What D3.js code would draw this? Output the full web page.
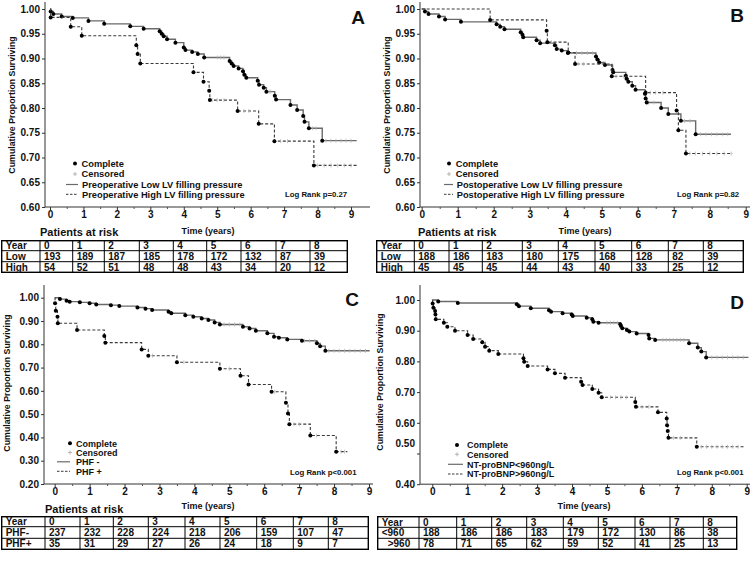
<!DOCTYPE html>
<html><head><meta charset="utf-8">
<script src="https://cdn.jsdelivr.net/npm/d3@7"></script>
<style>
body{margin:0;background:#fff}
svg{display:block}
text{font-family:"Liberation Sans",Arial,sans-serif;font-weight:bold;fill:#111}
</style>
</head><body>
<svg id="chart" width="750" height="561"></svg>
<script>
// ---------------- DATA ----------------
const years = [0,1,2,3,4,5,6,7,8,9];
const tableYears = ["0","1","2","3","4","5","6","7","8"];

// Panel A – preoperative LV filling pressure
const aLowT = [0.02,0.10,0.35,0.68,1.15,1.62,2.40,2.80,3.28,3.34,3.40,3.50,3.75,4.00,4.05,4.25,4.42,4.61,5.37,5.43,5.49,5.64,5.77,5.81,5.87,6.21,6.25,6.39,6.47,6.72,6.76,7.19,7.39,7.57,7.61,7.74,8.14];
const aLowS = [0.995,0.990,0.985,0.982,0.976,0.970,0.965,0.960,0.955,0.950,0.945,0.939,0.932,0.922,0.917,0.913,0.909,0.902,0.895,0.890,0.885,0.880,0.874,0.867,0.861,0.855,0.847,0.841,0.833,0.825,0.817,0.806,0.796,0.784,0.772,0.759,0.734];
const aLowEnd = 9.17;
const aLowCens = [5.0,5.1,5.2,6.55,6.6,7.85,7.95,8.25,8.4,8.55,8.7,8.85,9.0];
const aHighT = [0.02,0.62,0.95,2.58,2.62,2.70,4.29,4.59,4.76,4.78,5.61,6.24,6.71,7.89];
const aHighS = [0.983,0.964,0.946,0.927,0.909,0.890,0.872,0.853,0.835,0.816,0.794,0.768,0.733,0.684];
const aHighEnd = 9.18;
const aHighCens = [4.85,5.0,5.2,5.8,5.95,6.9,7.1,8.0,8.2,8.4,8.6,8.8,9.0];
const aRiskLow = [193,189,187,185,178,172,132,87,39];
const aRiskHigh = [54,52,51,48,48,43,34,20,12];

// Panel B – postoperative LV filling pressure
const bLowT = [0.09,0.19,0.48,0.65,1.09,2.08,2.18,2.30,2.75,2.80,2.82,3.19,3.29,3.70,3.75,3.89,4.06,4.84,4.88,4.93,5.09,5.30,5.32,5.67,5.69,5.74,5.85,5.94,6.20,6.22,6.25,6.65,6.85,7.20,7.61];
const bLowS = [0.995,0.990,0.985,0.979,0.974,0.969,0.964,0.959,0.953,0.948,0.943,0.937,0.931,0.927,0.919,0.916,0.911,0.904,0.898,0.892,0.887,0.877,0.872,0.865,0.859,0.853,0.845,0.837,0.829,0.819,0.811,0.800,0.788,0.774,0.747];
const bLowEnd = 8.59;
const bLowCens = [4.3,4.45,4.6,4.75,6.3,6.45,7.3,7.45,7.75,7.9,8.05,8.2,8.35,8.5];
const bHighT = [1.90,3.47,3.49,4.07,4.26,5.28,6.22,7.08,7.13,7.34];
const bHighS = [0.978,0.956,0.933,0.912,0.889,0.864,0.831,0.795,0.755,0.708];
const bHighEnd = 8.63;
const bHighCens = [3.6,4.35,4.5,5.4,5.6,6.35,6.5,6.7,7.45,7.6,7.8,8.0,8.2,8.4,8.6];
const bRiskLow = [188,186,183,180,175,168,128,82,39];
const bRiskHigh = [45,45,45,44,43,40,33,25,12];

// Panel C – PHF
const cLowT = [0.15,0.34,0.43,0.72,1.00,1.19,1.61,1.85,2.37,2.60,2.79,3.26,3.34,3.74,3.97,4.21,4.40,4.58,4.73,5.39,5.58,5.76,6.09,6.28,6.42,6.66,7.08,7.51,7.60,7.75];
const cLowS = [0.994,0.987,0.983,0.980,0.976,0.971,0.968,0.964,0.958,0.953,0.947,0.940,0.933,0.925,0.918,0.911,0.904,0.894,0.885,0.875,0.868,0.858,0.847,0.832,0.828,0.821,0.815,0.804,0.792,0.772];
const cLowEnd = 9.02;
const cLowCens = [4.85,5.0,5.15,5.3,7.15,7.3,7.45,7.85,8.0,8.15,8.3,8.45,8.6,8.75,8.9];
const cHighT = [0.01,0.03,0.08,0.09,0.64,1.42,1.45,2.49,2.68,3.50,4.73,5.32,5.55,6.21,6.62,6.68,6.72,7.32,8.06];
const cHighS = [0.976,0.944,0.918,0.890,0.861,0.835,0.807,0.778,0.751,0.723,0.695,0.665,0.627,0.596,0.549,0.503,0.457,0.408,0.339];
const cHighEnd = 8.38;
const cHighCens = [2.8,3.7,5.0,6.3,6.85,7.0,7.5,8.2,8.3];
const cRiskNeg = [237,232,228,224,218,206,159,107,47];
const cRiskPos = [35,31,29,27,26,24,18,9,7];

// Panel D – NT-proBNP
const dLowT = [0.17,0.73,2.42,2.48,2.82,3.34,3.40,3.73,3.99,4.02,4.42,4.58,4.61,4.76,5.38,5.40,5.44,5.57,5.64,5.85,6.19,6.21,6.38,7.35,7.60,7.70,7.84];
const dLowS = [0.995,0.990,0.986,0.980,0.973,0.967,0.962,0.957,0.953,0.948,0.942,0.937,0.929,0.926,0.921,0.915,0.908,0.902,0.897,0.891,0.886,0.875,0.870,0.859,0.845,0.832,0.813];
const dLowEnd = 9.05;
const dLowCens = [5.0,5.1,5.2,5.3,6.6,6.7,6.8,6.9,7.0,7.1,7.2,8.0,8.15,8.3,8.45,8.6,8.75,8.9];
const dHighT = [0.01,0.03,0.08,0.09,0.10,0.33,0.43,0.65,1.01,1.17,1.43,1.51,1.63,1.89,2.61,2.63,2.73,3.30,3.51,3.80,4.26,4.30,4.58,4.76,4.85,5.81,5.83,6.46,6.71,6.72,6.74,6.76,7.57];
const dHighS = [0.989,0.975,0.964,0.953,0.937,0.926,0.913,0.900,0.886,0.873,0.862,0.848,0.835,0.824,0.810,0.799,0.785,0.774,0.761,0.747,0.734,0.723,0.710,0.698,0.683,0.668,0.652,0.634,0.614,0.592,0.573,0.551,0.522];
const dHighEnd = 8.96;
const dHighCens = [5.1,5.25,5.4,5.55,6.0,6.2,6.9,7.1,7.7,7.85,8.0,8.15,8.3,8.45,8.6,8.75];
const dRiskLow = [188,186,186,183,179,172,130,86,38];
const dRiskHigh = [78,71,65,62,59,52,41,25,13];

// ---------------- DRAWING ----------------
const svg = d3.select("#chart");
const SOLID = "#6a6a6a", DASHED = "#3a3a3a", CENS = "#b5b5b5";

function stepValue(T, S, t){
  let v = 1;
  for (let i=0;i<T.length;i++){ if (T[i] <= t) v = S[i]; }
  return v;
}

function drawPanel(cfg){
  const g = svg.append("g");
  const x = d3.scaleLinear().domain([0,9]).range([cfg.x0, cfg.x9]);
  const y = d3.scaleLinear().domain([cfg.yMin,1]).range([cfg.yBottom, cfg.yTop]);

  // axis lines
  g.append("line").attr("x1",cfg.axX).attr("x2",cfg.axX).attr("y1",cfg.axTop).attr("y2",cfg.yBottom)
    .attr("stroke","#333").attr("stroke-width",1);
  g.append("line").attr("x1",cfg.axX).attr("x2",cfg.axRight).attr("y1",cfg.yBottom).attr("y2",cfg.yBottom)
    .attr("stroke","#333").attr("stroke-width",1);

  // x axis
  const xa = g.append("g").attr("transform",`translate(0,${cfg.yBottom})`)
    .call(d3.axisBottom(x).tickValues(years).tickFormat(d3.format("d")).tickSize(3).tickPadding(1));
  xa.select(".domain").remove();
  xa.selectAll("line").attr("stroke","#333");
  xa.selectAll("text").style("font-size","10px").attr("fill","#111");
  const halves = d3.range(0.5,9,1);
  const xm = g.append("g").attr("transform",`translate(0,${cfg.yBottom})`)
    .call(d3.axisBottom(x).tickValues(halves).tickFormat("").tickSize(2));
  xm.select(".domain").remove();
  xm.selectAll("line").attr("stroke","#555");

  // y axis
  const yt = d3.range(cfg.yMin, 1.0001, cfg.yStep);
  const ya = g.append("g").attr("transform",`translate(${cfg.axX},0)`)
    .call(d3.axisLeft(y).tickValues(yt).tickFormat(d3.format(".2f")).tickSize(3).tickPadding(2));
  ya.select(".domain").remove();
  ya.selectAll("line").attr("stroke","#333");
  ya.selectAll("text").style("font-size","10px").attr("fill","#111");
  if (cfg.nudge){
    ya.selectAll(".tick").filter(d => Math.abs(d - cfg.nudge.v) < 1e-6)
      .select("text").attr("transform",`translate(0,${cfg.nudge.dy})`);
  }

  // y title
  g.append("text").attr("transform",`translate(${cfg.yTitleX},${cfg.yTitleY}) rotate(-90)`)
    .attr("text-anchor","middle").style("font-size","8.8px").attr("fill","#222")
    .text("Cumulative Proportion Surviving");

  // curves
  const line = d3.line().x(d=>x(d[0])).y(d=>y(d[1])).curve(d3.curveStepAfter);
  cfg.curves.forEach(c => {
    const pts = [[0,1]].concat(c.T.map((t,i)=>[t,c.S[i]])).concat([[c.end, c.S[c.S.length-1]]]);
    g.append("path").attr("d", line(pts)).attr("fill","none")
      .attr("stroke", c.dashed ? DASHED : SOLID).attr("stroke-width", c.dashed ? 1.1 : 1.4)
      .attr("stroke-dasharray", c.dashed ? "3,2" : null);
    c.cens.forEach(t => {
      const v = stepValue(c.T, c.S, t);
      g.append("line").attr("x1",x(t)).attr("x2",x(t)).attr("y1",y(v)-2).attr("y2",y(v)+2)
        .attr("stroke",CENS).attr("stroke-width",0.8);
    });
    g.selectAll(null).data(c.T.map((t,i)=>[t,c.S[i]])).enter().append("circle")
      .attr("cx",d=>x(d[0])).attr("cy",d=>y(d[1])).attr("r",2).attr("fill","#000");
  });

  // panel letter
  g.append("text").attr("x",cfg.letterX).attr("y",cfg.letterY).attr("text-anchor","middle")
    .style("font-size","19px").attr("fill","#000").text(cfg.letter);

  // legend
  const L = cfg.legend, fs = L.fs + "px", off = L.fs * 0.36;
  g.append("circle").attr("cx",L.dotX).attr("cy",L.rows[0]).attr("r",2).attr("fill","#000");
  g.append("text").attr("x",L.textX).attr("y",L.rows[0]+off).style("font-size",fs).text("Complete");
  g.append("line").attr("x1",L.dotX).attr("x2",L.dotX).attr("y1",L.rows[1]-2).attr("y2",L.rows[1]+2).attr("stroke",CENS);
  g.append("line").attr("x1",L.dotX-2).attr("x2",L.dotX+2).attr("y1",L.rows[1]).attr("y2",L.rows[1]).attr("stroke",CENS);
  g.append("text").attr("x",L.textX).attr("y",L.rows[1]+off).style("font-size",fs).text("Censored");
  g.append("line").attr("x1",L.lineX1).attr("x2",L.lineX2).attr("y1",L.rows[2]).attr("y2",L.rows[2])
    .attr("stroke",SOLID).attr("stroke-width",1.2);
  g.append("text").attr("x",L.lineTextX).attr("y",L.rows[2]+off).style("font-size",fs).text(cfg.names[0]);
  g.append("line").attr("x1",L.lineX1).attr("x2",L.lineX2).attr("y1",L.rows[3]).attr("y2",L.rows[3])
    .attr("stroke",DASHED).attr("stroke-width",1).attr("stroke-dasharray","2.5,1.5");
  g.append("text").attr("x",L.lineTextX).attr("y",L.rows[3]+off).style("font-size",fs).text(cfg.names[1]);

  g.append("text").attr("x",cfg.logRank.x).attr("y",cfg.logRank.y+2.8).style("font-size","7.8px").text(cfg.logRank.text);

  // x title and risk heading
  g.append("text").attr("x",cfg.xTitle.x).attr("y",cfg.xTitle.y+3.3).attr("text-anchor","middle")
    .style("font-size","9px").text("Time (years)");
  if (cfg.risk){
    g.append("text").attr("x",cfg.risk.x).attr("y",cfg.risk.y+4.3).style("font-size","11px").text("Patients at risk");
  }

  // table
  const T = cfg.table;
  const rowsData = [["Year"].concat(tableYears), [T.labels[0]].concat(T.r1), [T.labels[1]].concat(T.r2)];
  const tg = g.append("g");
  tg.append("rect").attr("x",T.cols[0]).attr("y",T.rows[0])
    .attr("width",T.cols[T.cols.length-1]-T.cols[0]).attr("height",T.rows[3]-T.rows[0])
    .attr("fill","none").attr("stroke","#000").attr("stroke-width",1.4);
  T.cols.slice(1,-1).forEach(cx => tg.append("line").attr("x1",cx).attr("x2",cx).attr("y1",T.rows[0]).attr("y2",T.rows[3])
    .attr("stroke","#000").attr("stroke-width",1));
  T.rows.slice(1,-1).forEach(ry => tg.append("line").attr("x1",T.cols[0]).attr("x2",T.cols[T.cols.length-1]).attr("y1",ry).attr("y2",ry)
    .attr("stroke","#000").attr("stroke-width",1));
  rowsData.forEach((row, ri) => {
    const cy = (T.rows[ri] + T.rows[ri+1]) / 2;
    row.forEach((v, ci) => {
      let tx = T.cols[ci] + 4;
      if (ci === 0 && T.indent && ri === 2) tx += T.indent;
      tg.append("text").attr("x",tx).attr("y",cy+3.6).style("font-size","10px").text(v);
    });
  });
}

drawPanel({
  x0:50, x9:351, yMin:0.6, yTop:9, yBottom:207, axX:45, axTop:2, axRight:370, yStep:0.05,
  yTitleX:15, yTitleY:105, letter:"A", letterX:358, letterY:24,
  curves:[{T:aLowT,S:aLowS,end:aLowEnd,cens:aLowCens,dashed:false},{T:aHighT,S:aHighS,end:aHighEnd,cens:aHighCens,dashed:true}],
  names:["Preoperative Low LV filling pressure","Preoperative High LV filling pressure"],
  legend:{fs:9.3,dotX:75,textX:81.5,lineX1:66,lineX2:78,lineTextX:82,rows:[163.5,174,184.5,194.3]},
  logRank:{text:"Log Rank p=0.27",x:285,y:194},
  xTitle:{x:208,y:231}, risk:{x:40,y:232},
  table:{cols:[1.7,40,72.7,104.3,139.3,173.3,206.7,241,276,310,347.3],rows:[240.7,250.7,261.7,272.3],labels:["Low","High"],r1:aRiskLow,r2:aRiskHigh}
});

drawPanel({
  x0:421.7, x9:745.7, yMin:0.6, yTop:9, yBottom:207, axX:420, axTop:2, axRight:750, yStep:0.05,
  yTitleX:390, yTitleY:105, letter:"B", letterX:737, letterY:22,
  curves:[{T:bLowT,S:bLowS,end:bLowEnd,cens:bLowCens,dashed:false},{T:bHighT,S:bHighS,end:bHighEnd,cens:bHighCens,dashed:true}],
  names:["Postoperative Low LV filling pressure","Postoperative High LV filling pressure"],
  legend:{fs:9.3,dotX:449,textX:455.7,lineX1:444,lineX2:453,lineTextX:456.7,rows:[163.5,174,184.5,194.3]},
  logRank:{text:"Log Rank p=0.82",x:677,y:194},
  xTitle:{x:585,y:231}, risk:{x:418,y:232},
  table:{cols:[376.7,414.3,449,482.3,522.3,558.3,595,631.7,668.3,703.3,743.3],rows:[240.7,250.7,261.7,272.3],labels:["Low","High"],r1:bRiskLow,r2:bRiskHigh}
});

drawPanel({
  x0:54.7, x9:369, yMin:0.2, yTop:297.7, yBottom:484, axX:44, axTop:285, axRight:373, yStep:0.1,
  yTitleX:10, yTitleY:383, letter:"C", letterX:352, letterY:306,
  curves:[{T:cLowT,S:cLowS,end:cLowEnd,cens:cLowCens,dashed:false},{T:cHighT,S:cHighS,end:cHighEnd,cens:cHighCens,dashed:true}],
  names:["PHF -","PHF +"],
  legend:{fs:9,dotX:70,textX:76,lineX1:57,lineX2:70,lineTextX:76,rows:[443.3,452.5,461.8,471.3]},
  logRank:{text:"Log Rank p<0.001",x:290,y:471.7},
  xTitle:{x:208,y:506}, risk:{x:45,y:509},
  table:{cols:[1.7,45,80,113.3,148.3,185,220,256.7,293.3,328.3,368.3],rows:[516.7,526.7,538.3,549.3],labels:["PHF-","PHF+"],r1:cRiskNeg,r2:cRiskPos}
});

drawPanel({
  x0:432.3, x9:746.7, yMin:0.4, yTop:300, yBottom:484.2, axX:420, axTop:285, axRight:750, yStep:0.1,
  nudge:{v:0.5, dy:-10},
  yTitleX:383, yTitleY:382, letter:"D", letterX:737, letterY:309,
  curves:[{T:dLowT,S:dLowS,end:dLowEnd,cens:dLowCens,dashed:false},{T:dHighT,S:dHighS,end:dHighEnd,cens:dHighCens,dashed:true}],
  names:["NT-proBNP<960ng/L","NT-proBNP>960ng/L"],
  legend:{fs:9,dotX:457,textX:467,lineX1:448,lineX2:463,lineTextX:467,rows:[445,454.3,464.3,474]},
  logRank:{text:"Log Rank p<0.001",x:677,y:471.7},
  xTitle:{x:584,y:506}, risk:null,
  table:{cols:[377.7,419,456.7,491.7,526.7,563.3,598.3,635,670,703.3,736.7],rows:[516.7,527.3,538.3,549.3],labels:["<960",">960"],r1:dRiskLow,r2:dRiskHigh,indent:6}
});
</script>
</body></html>
